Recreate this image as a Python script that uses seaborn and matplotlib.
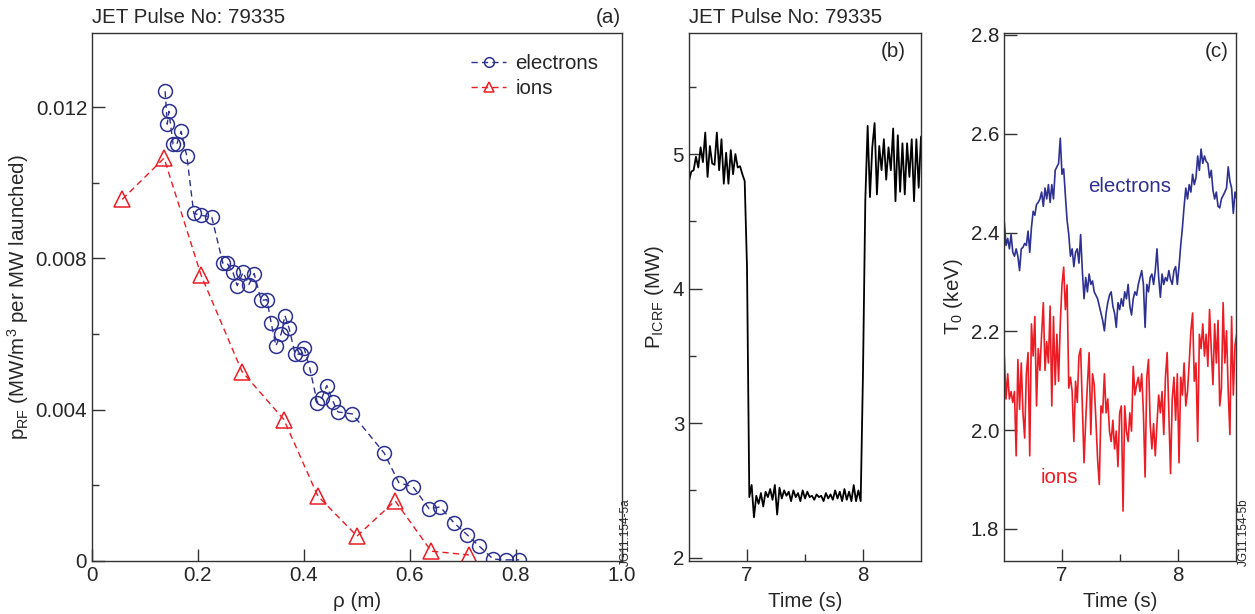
import numpy as np
import pandas as pd
import matplotlib
matplotlib.use("Agg")
import matplotlib.pyplot as plt
from matplotlib.ticker import MultipleLocator, FixedLocator
import seaborn as sns

# ---------------- data ----------------
# (a) RF power deposition profiles
rho_e = [0.138, 0.142, 0.145, 0.153, 0.160, 0.168, 0.179, 0.192, 0.206, 0.226,
         0.247, 0.255, 0.266, 0.274, 0.285, 0.296, 0.306, 0.319, 0.330, 0.338,
         0.347, 0.357, 0.364, 0.372, 0.383, 0.394, 0.400, 0.411, 0.425, 0.434,
         0.443, 0.455, 0.464, 0.491, 0.551, 0.579, 0.606, 0.636, 0.657, 0.683,
         0.708, 0.730, 0.757, 0.781, 0.806]
p_e = [0.01242, 0.01155, 0.01189, 0.01102, 0.01102, 0.01136, 0.01070, 0.00919, 0.00914, 0.00909,
       0.00787, 0.00787, 0.00763, 0.00728, 0.00763, 0.00731, 0.00760, 0.00689, 0.00691, 0.00630,
       0.00569, 0.00601, 0.00649, 0.00615, 0.00548, 0.00546, 0.00564, 0.00509, 0.00419, 0.00432,
       0.00464, 0.00421, 0.00394, 0.00389, 0.00286, 0.00207, 0.00196, 0.00138, 0.00143, 0.00101,
       0.00069, 0.00040, 0.00005, 0.00003, 0.00003]
rho_i = [0.057, 0.136, 0.206, 0.283, 0.362, 0.426, 0.500, 0.572, 0.640, 0.711]
p_i = [0.00956, 0.01065, 0.00755, 0.00501, 0.00374, 0.00172, 0.00066, 0.00159, 0.00026, 0.00016]

# (b) ICRF power, sampled every 0.02 s from 6.50 s to 8.50 s
t_b_start, t_b_end = 6.50, 8.50
p_icrf = [4.80, 4.87, 4.88, 4.98, 4.90, 5.05, 4.94, 5.16, 4.83, 5.06,
          4.93, 4.92, 5.16, 4.88, 5.11, 4.78, 5.01, 4.78, 5.03, 4.85,
          5.00, 4.90, 4.91, 4.85, 4.80, 4.16, 2.45, 2.54, 2.30, 2.46,
          2.40, 2.48, 2.38, 2.49, 2.45, 2.51, 2.43, 2.54, 2.32, 2.52,
          2.44, 2.50, 2.46, 2.49, 2.42, 2.50, 2.45, 2.48, 2.42, 2.50,
          2.44, 2.49, 2.45, 2.46, 2.43, 2.47, 2.45, 2.46, 2.42, 2.48,
          2.44, 2.47, 2.43, 2.50, 2.44, 2.49, 2.42, 2.51, 2.43, 2.49,
          2.42, 2.54, 2.42, 2.50, 2.42, 3.38, 4.66, 5.21, 4.68, 5.05,
          5.23, 4.70, 5.06, 4.88, 5.11, 4.81, 5.05, 4.88, 5.19, 4.65,
          5.14, 4.72, 5.08, 4.70, 5.08, 4.83, 5.11, 4.65, 5.11, 4.75,
          5.13]

# (c) central temperatures, uniform sampling from 6.488 s to 8.506 s
t_c_start, t_c_end = 6.488, 8.506
te0 = [2.428, 2.421, 2.374, 2.388, 2.367, 2.396, 2.360, 2.352, 2.367, 2.352,
       2.323, 2.367, 2.370, 2.378, 2.374, 2.403, 2.360, 2.410, 2.443, 2.435,
       2.457, 2.461, 2.468, 2.482, 2.453, 2.490, 2.468, 2.497, 2.461, 2.497,
       2.468, 2.526, 2.533, 2.540, 2.591, 2.518, 2.529, 2.475, 2.425, 2.396,
       2.352, 2.367, 2.331, 2.360, 2.367, 2.338, 2.396, 2.323, 2.266, 2.309,
       2.280, 2.316, 2.295, 2.302, 2.280, 2.273, 2.266, 2.251, 2.237, 2.222,
       2.201, 2.237, 2.258, 2.273, 2.280, 2.251, 2.237, 2.208, 2.258, 2.244,
       2.266, 2.251, 2.280, 2.266, 2.295, 2.251, 2.233, 2.266, 2.280, 2.273,
       2.295, 2.309, 2.323, 2.295, 2.208, 2.295, 2.280, 2.309, 2.316, 2.295,
       2.323, 2.367, 2.309, 2.269, 2.316, 2.295, 2.309, 2.302, 2.323, 2.305,
       2.295, 2.323, 2.331, 2.295, 2.331, 2.374, 2.410, 2.453, 2.490, 2.468,
       2.497, 2.482, 2.518, 2.497, 2.511, 2.555, 2.526, 2.569, 2.540, 2.555,
       2.544, 2.540, 2.511, 2.526, 2.486, 2.468, 2.482, 2.453, 2.450, 2.468,
       2.475, 2.482, 2.490, 2.533, 2.504, 2.490, 2.439, 2.482, 2.468]
ti0 = [2.092, 2.150, 2.063, 2.114, 2.063, 2.078, 2.056, 2.078, 1.948, 2.143,
       2.042, 2.136, 2.035, 1.984, 2.114, 2.157, 1.948, 2.215, 2.150, 2.230,
       2.049, 2.165, 2.121, 2.194, 2.258, 2.121, 2.179, 2.136, 2.251, 2.049,
       2.230, 2.092, 2.194, 2.099, 2.215, 2.294, 2.330, 2.244, 2.294, 2.085,
       2.107, 2.078, 1.977, 2.099, 2.056, 2.150, 2.165, 2.049, 1.934, 2.020,
       2.092, 2.157, 1.991, 2.114, 2.092, 2.020, 1.941, 1.890, 2.049, 2.035,
       2.114, 2.035, 2.063, 1.998, 1.977, 2.020, 1.962, 1.998, 1.926, 2.035,
       2.049, 1.836, 2.049, 1.998, 1.977, 2.035, 1.998, 2.129, 2.071, 2.092,
       2.107, 2.078, 2.114, 2.035, 1.905, 2.107, 2.143, 2.013, 1.962, 2.013,
       1.948, 2.013, 2.071, 2.035, 2.078, 1.991, 2.107, 2.157, 2.035, 1.912,
       2.063, 2.107, 2.020, 2.114, 1.934, 2.107, 2.071, 2.136, 2.049, 2.078,
       2.136, 2.201, 2.237, 2.099, 2.136, 1.977, 2.194, 2.165, 2.215, 2.150,
       2.194, 2.129, 2.244, 2.165, 2.092, 2.215, 2.136, 2.222, 2.049, 2.085,
       2.258, 2.136, 2.201, 2.078, 1.991, 2.230, 2.071, 2.172, 2.194]

# labels
title_text = "JET Pulse No: 79335"
a_xticks = [0, 0.2, 0.4, 0.6, 0.8, 1.0]
a_xticklabels = ["0", "0.2", "0.4", "0.6", "0.8", "1.0"]
a_yticks = [0, 0.004, 0.008, 0.012]
a_yticklabels = ["0", "0.004", "0.008", "0.012"]
c_yticks = [1.8, 2.0, 2.2, 2.4, 2.6, 2.8]
c_yticklabels = ["1.8", "2.0", "2.2", "2.4", "2.6", "2.8"]

# ---------------- style ----------------
sns.set_theme(style="ticks")
plt.rcParams["font.family"] = ["Liberation Sans", "DejaVu Sans"]
plt.rcParams["mathtext.default"] = "regular"
FS = 14.8
NAVY = "#2e3192"
RED = "#ec1c24"
SPINE = "#333333"

fig = plt.figure(figsize=(12.55, 6.14), dpi=100)
W, H = 1255, 614
def axes_px(l, r, t, b):
    return fig.add_axes([l / W, 1 - b / H, (r - l) / W, (b - t) / H])

ax_a = axes_px(92, 622, 33, 561)
ax_b = axes_px(689, 921, 33, 561)
ax_c = axes_px(1004, 1236, 33, 561)

def style_axes(ax):
    for s in ax.spines.values():
        s.set_visible(True)
        s.set_color(SPINE)
        s.set_linewidth(1.0)
    ax.tick_params(which="major", direction="in", length=9, width=1.0,
                   color=SPINE, labelsize=FS, pad=3.5, top=False, right=False)
    ax.tick_params(which="minor", direction="in", length=5, width=1.0,
                   color=SPINE, top=False, right=False)

# ---- (a) ----
df_e = pd.DataFrame({"rho": rho_e, "p": p_e})
df_i = pd.DataFrame({"rho": rho_i, "p": p_i})
sns.lineplot(data=df_e, x="rho", y="p", ax=ax_a, estimator=None, sort=True,
             color=NAVY, linestyle=(0, (4.5, 3)), linewidth=1.0,
             marker="o", markersize=10, markerfacecolor="none",
             markeredgecolor=NAVY, markeredgewidth=1.1, label="electrons")
sns.lineplot(data=df_i, x="rho", y="p", ax=ax_a, estimator=None, sort=True,
             color=RED, linestyle=(0, (4.5, 3)), linewidth=1.0,
             marker="^", markersize=11, markerfacecolor="none",
             markeredgecolor=RED, markeredgewidth=1.1, label="ions")
ax_a.set_xlim(0, 1.0)
ax_a.set_ylim(0, 0.01396)
ax_a.set_xticks(a_xticks)
ax_a.set_xticklabels(a_xticklabels)
ax_a.set_yticks(a_yticks)
ax_a.set_yticklabels(a_yticklabels)
ax_a.yaxis.set_minor_locator(MultipleLocator(0.002))
style_axes(ax_a)
ax_a.set_xlabel("ρ (m)", fontsize=FS, labelpad=5)
ax_a.set_ylabel("p$_{RF}$ (MW/m$^3$ per MW launched)", fontsize=FS, labelpad=3)
leg = ax_a.legend(loc="upper right", bbox_to_anchor=(0.983, 0.987), frameon=False,
                  fontsize=FS, handlelength=1.7, handletextpad=0.45, labelspacing=0.3,
                  borderaxespad=0.3, markerscale=0.7)
ax_a.text(0.0, 1.012, title_text, transform=ax_a.transAxes, ha="left", va="bottom", fontsize=FS)
ax_a.text(0.974, 1.012, "(a)", transform=ax_a.transAxes, ha="center", va="bottom", fontsize=FS)

# ---- (b) ----
t_b = np.linspace(t_b_start, t_b_end, len(p_icrf))
sns.lineplot(x=t_b, y=p_icrf, ax=ax_b, estimator=None, sort=False,
             color="black", linewidth=1.3)
ax_b.set_xlim(6.5, 8.5)
ax_b.set_ylim(1.975, 5.9)
ax_b.set_xticks([7, 8])
ax_b.set_xticklabels(["7", "8"])
ax_b.xaxis.set_minor_locator(FixedLocator([7.5]))
ax_b.set_yticks([2, 3, 4, 5])
ax_b.set_yticklabels(["2", "3", "4", "5"])
ax_b.yaxis.set_minor_locator(FixedLocator([2.5, 3.5, 4.5, 5.5]))
style_axes(ax_b)
ax_b.set_xlabel("Time (s)", fontsize=FS, labelpad=5)
ax_b.set_ylabel("P$_{ICRF}$ (MW)", fontsize=FS, labelpad=5)
ax_b.text(0.0, 1.012, title_text, transform=ax_b.transAxes, ha="left", va="bottom", fontsize=FS)
ax_b.text(0.88, 0.965, "(b)", transform=ax_b.transAxes, ha="center", va="center", fontsize=FS)

# ---- (c) ----
t_c = np.linspace(t_c_start, t_c_end, len(te0))
sns.lineplot(x=t_c, y=te0, ax=ax_c, estimator=None, sort=False, color=NAVY, linewidth=1.2)
sns.lineplot(x=t_c, y=ti0, ax=ax_c, estimator=None, sort=False, color=RED, linewidth=1.2)
ax_c.set_xlim(6.5, 8.5)
ax_c.set_ylim(1.735, 2.804)
ax_c.set_xticks([7, 8])
ax_c.set_xticklabels(["7", "8"])
ax_c.xaxis.set_minor_locator(FixedLocator([7.5]))
ax_c.set_yticks(c_yticks)
ax_c.set_yticklabels(c_yticklabels)
style_axes(ax_c)
ax_c.set_xlabel("Time (s)", fontsize=FS, labelpad=5)
ax_c.set_ylabel("T$_0$ (keV)", fontsize=FS, labelpad=4)
ax_c.text(7.58, 2.493, "electrons", color=NAVY, ha="center", va="center", fontsize=FS)
ax_c.text(6.98, 1.905, "ions", color=RED, ha="center", va="center", fontsize=FS)
ax_c.text(0.918, 0.965, "(c)", transform=ax_c.transAxes, ha="center", va="center", fontsize=FS)

# figure reference codes
fig.text(626 / W, 1 - 566 / H, "JG11.154-5a", rotation=90, ha="center", va="bottom", fontsize=8.5)
fig.text(1244 / W, 1 - 566 / H, "JG11.154-5b", rotation=90, ha="center", va="bottom", fontsize=8.5)

fig.savefig("out.png", dpi=100)
